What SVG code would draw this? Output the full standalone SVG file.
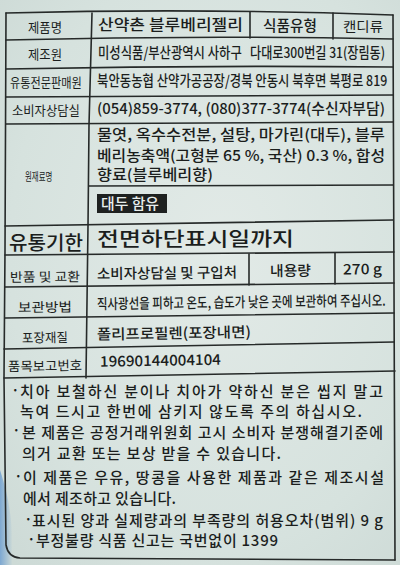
<svg xmlns="http://www.w3.org/2000/svg" width="400" height="565" viewBox="0 0 400 565">
<defs>
<radialGradient id="bg" cx="0.55" cy="0.45" r="0.75">
<stop offset="0" stop-color="#e2eae7"/>
<stop offset="0.7" stop-color="#d6e2de"/>
<stop offset="1" stop-color="#cddad6"/>
</radialGradient>
<linearGradient id="blue" x1="0" y1="0" x2="1" y2="0">
<stop offset="0" stop-color="#6f9fd0" stop-opacity="0.85"/>
<stop offset="1" stop-color="#6f9fd0" stop-opacity="0"/>
</linearGradient>
<style>
.ln{fill:none;stroke:#262a29;stroke-width:1.6;stroke-linecap:round;stroke-linejoin:round}
text{font-family:"Noto Sans CJK KR","Noto Sans",sans-serif;fill:#1b1e1d}
.lb{font-size:13px;font-weight:400}
.v{font-size:14.5px;font-weight:500}
.big{font-size:19.5px;font-weight:500}
.nt{font-size:15px;font-weight:500}
.sm{font-size:11px}
</style>
</defs>
<rect width="400" height="565" fill="url(#bg)"/>
<path d="M0,470 C10,500 14,530 12,565 L0,565 Z" fill="url(#blue)"/>

<g id="table-lines">
<path class="ln" d="M6,13 Q200,8 393,15"/>
<path class="ln" d="M6,40 Q200,35 393,39"/>
<path class="ln" d="M6,69 Q200,65 393,67"/>
<path class="ln" d="M6,97 L393,95"/>
<path class="ln" d="M6,124 L393,122"/>
<path class="ln" d="M89,186 L393,185"/>
<path class="ln" d="M5,226 L393,220"/>
<path class="ln" d="M5,255 L394,252"/>
<path class="ln" d="M5,287 L394,283"/>
<path class="ln" d="M5,318 L394,313"/>
<path class="ln" d="M4,349 L394,342"/>
<path class="ln" d="M4,378 L395,371"/>
<path class="ln" d="M6,13 L5,250 L4,378 L6,545 Q8,557 20,558 L395,560"/>
<path class="ln" d="M393,15 L395,560"/>
<path class="ln" d="M92,13 L89,125 L88,226 L86,378"/>
<path class="ln" d="M250,12 L250,38"/>
<path class="ln" d="M333,13 L333,39"/>
<path class="ln" d="M249,254 L249,285"/>
<path class="ln" d="M335,253 L335,284"/>
</g>

<g id="row-name">
<text class="lb" x="28" y="32" textLength="34" lengthAdjust="spacingAndGlyphs">제품명</text>
<text class="v" x="98" y="30" font-size="15.5" textLength="145" lengthAdjust="spacingAndGlyphs">산약촌 블루베리젤리</text>
<text class="v" x="263" y="31" textLength="54" lengthAdjust="spacingAndGlyphs">식품유형</text>
<text class="lb" x="343" y="31" textLength="40" lengthAdjust="spacingAndGlyphs">캔디류</text>
</g>
<g id="row-maker">
<text class="lb" x="28" y="59" textLength="34" lengthAdjust="spacingAndGlyphs">제조원</text>
<text class="v" transform="translate(98,58) scale(0.79,1)" x="0" y="0" textLength="182" lengthAdjust="spacingAndGlyphs">미성식품/부산광역시 사하구</text>
<text class="v" transform="translate(250,58) scale(0.86,1)" x="0" y="0" font-size="13.5" textLength="157" lengthAdjust="spacingAndGlyphs">다대로300번길 31(장림동)</text>
</g>
<g id="row-seller">
<text class="lb" transform="translate(10,87) scale(0.79,1)" x="0" y="0" textLength="91" lengthAdjust="spacingAndGlyphs">유통전문판매원</text>
<text class="v" transform="translate(97,86) scale(0.82,1)" x="0" y="0" font-size="14" textLength="354" lengthAdjust="spacingAndGlyphs">북안동농협 산약가공공장/경북 안동시 북후면 북평로 819</text>
</g>
<g id="row-consumer">
<text class="lb" transform="translate(12,115) scale(0.87,1)" x="0" y="0" textLength="78" lengthAdjust="spacingAndGlyphs">소비자상담실</text>
<text class="v" x="97" y="114" font-size="15" textLength="288" lengthAdjust="spacingAndGlyphs">(054)859-3774, (080)377-3774(수신자부담)</text>
</g>
<g id="row-ingredients">
<text class="sm" transform="translate(25,181) scale(0.62,1)" x="0" y="0" textLength="44" lengthAdjust="spacingAndGlyphs">원재료명</text>
<text class="v" x="97" y="140" font-size="15" textLength="288" lengthAdjust="spacingAndGlyphs">물엿, 옥수수전분, 설탕, 마가린(대두), 블루</text>
<text class="v" x="97" y="161" font-size="15" textLength="288" lengthAdjust="spacingAndGlyphs">베리농축액(고형분 65 %, 국산) 0.3 %, 합성</text>
<text class="v" x="97" y="180" font-size="15" textLength="116" lengthAdjust="spacingAndGlyphs">향료(블루베리향)</text>
<rect x="97" y="194" width="70" height="19" fill="#1e2120"/>
<text class="v" x="101" y="209" font-size="14" style="fill:#e8eeec" textLength="58" lengthAdjust="spacingAndGlyphs">대두 함유</text>
</g>
<g id="row-expiry">
<text class="big" x="9" y="250" textLength="74" lengthAdjust="spacingAndGlyphs">유통기한</text>
<text class="big" x="97" y="246" font-size="20" textLength="197" lengthAdjust="spacingAndGlyphs">전면하단표시일까지</text>
</g>
<g id="row-return" transform="rotate(-0.6 200 278)">
<text class="lb" x="10" y="280" textLength="70" lengthAdjust="spacingAndGlyphs">반품 및 교환</text>
<text class="v" x="97" y="278" textLength="140" lengthAdjust="spacingAndGlyphs">소비자상담실 및 구입처</text>
<text class="v" x="270" y="277" textLength="41" lengthAdjust="spacingAndGlyphs">내용량</text>
<text class="v" x="343" y="276" textLength="39" lengthAdjust="spacingAndGlyphs">270 g</text>
</g>
<g id="row-storage" transform="rotate(-0.7 200 308)">
<text class="lb" x="18" y="310" textLength="54" lengthAdjust="spacingAndGlyphs">보관방법</text>
<text class="v" transform="translate(97,308) scale(0.82,1)" x="0" y="0" font-size="13" textLength="352" lengthAdjust="spacingAndGlyphs">직사광선을 피하고 온도, 습도가 낮은 곳에 보관하여 주십시오.</text>
</g>
<g id="row-package" transform="rotate(-0.9 200 338)">
<text class="lb" x="22" y="340" textLength="46" lengthAdjust="spacingAndGlyphs">포장재질</text>
<text class="v" x="97" y="338" textLength="154" lengthAdjust="spacingAndGlyphs">폴리프로필렌(포장내면)</text>
</g>
<g id="row-report" transform="rotate(-1 200 365)">
<text class="lb" x="8" y="368" textLength="74" lengthAdjust="spacingAndGlyphs">품목보고번호</text>
<text class="v" x="100" y="365" textLength="121" lengthAdjust="spacingAndGlyphs">19690144004104</text>
</g>

<g id="notes">
<text class="nt" x="11" y="396">·</text>
<text class="nt" x="20" y="397" textLength="363" lengthAdjust="spacing">치아 보철하신 분이나 치아가 약하신 분은 씹지 말고</text>
<text class="nt" x="20" y="417" textLength="342" lengthAdjust="spacing">녹여 드시고 한번에 삼키지 않도록 주의 하십시오.</text>
<text class="nt" x="12" y="436">·</text>
<text class="nt" x="22" y="438" textLength="361" lengthAdjust="spacing">본 제품은 공정거래위원회 고시 소비자 분쟁해결기준에</text>
<text class="nt" x="22" y="459" textLength="259" lengthAdjust="spacing">의거 교환 또는 보상 받을 수 있습니다.</text>
<text class="nt" x="14" y="482">·</text>
<text class="nt" x="23" y="483" textLength="361" lengthAdjust="spacing">이 제품은 우유, 땅콩을 사용한 제품과 같은 제조시설</text>
<text class="nt" x="23" y="504" textLength="153" lengthAdjust="spacing">에서 제조하고 있습니다.</text>
<text class="nt" x="24" y="525">·</text>
<text class="nt" x="32" y="526" textLength="351" lengthAdjust="spacing">표시된 양과 실제량과의 부족량의 허용오차(범위) 9 g</text>
<text class="nt" x="27" y="545">·</text>
<text class="nt" x="36" y="546" textLength="242" lengthAdjust="spacing">부정불량 식품 신고는 국번없이 1399</text>
</g>
</svg>
